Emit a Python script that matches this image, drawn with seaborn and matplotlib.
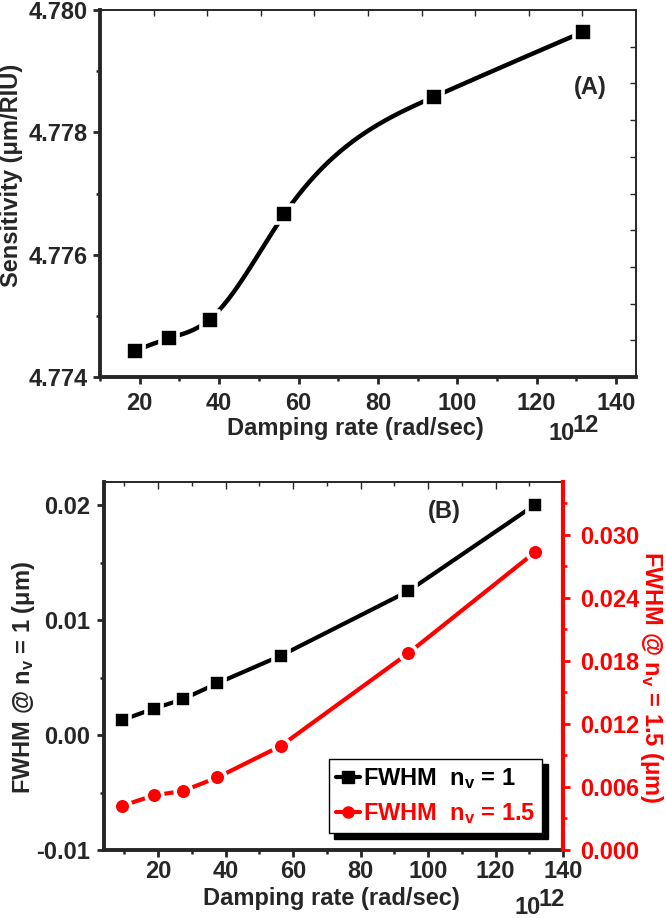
import numpy as np
import pandas as pd
import matplotlib
matplotlib.use('Agg')
import matplotlib.pyplot as plt
from matplotlib.lines import Line2D
from matplotlib.ticker import MultipleLocator, FormatStrFormatter
import seaborn as sns

# --- data ---
# (A) sensitivity vs damping rate (x in 10^12 rad/sec)
damping_a = [18.8, 27.3, 37.6, 56.4, 94.1, 131.6]
sensitivity = [4.77443, 4.77463, 4.77494, 4.77666, 4.77858, 4.77964]

# (B) FWHM vs damping rate
damping_b = [9.4, 18.8, 27.3, 37.6, 56.4, 94.1, 131.6]
fwhm_nv1 = [0.0013, 0.0023, 0.0031, 0.0045, 0.0069, 0.0125, 0.0200]
fwhm_nv15 = [0.0042, 0.0052, 0.0056, 0.0069, 0.0099, 0.0187, 0.0283]

RED = '#ff0000'
FS = 17

sns.set_style('ticks')
plt.rcParams['font.family'] = ['Liberation Sans', 'DejaVu Sans']
plt.rcParams['font.weight'] = 'bold'
plt.rcParams['axes.labelweight'] = 'bold'
plt.rcParams['mathtext.fontset'] = 'custom'
plt.rcParams['mathtext.rm'] = 'Liberation Sans:bold'
plt.rcParams['mathtext.it'] = 'Liberation Sans:bold'
plt.rcParams['mathtext.bf'] = 'Liberation Sans:bold'


def natural_spline(x, y, n=300):
    # smooth connecting curve (Origin-style spline line)
    x = np.asarray(x, float)
    y = np.asarray(y, float)
    k = len(x)
    h = np.diff(x)
    A = np.zeros((k, k))
    b = np.zeros(k)
    A[0, 0] = A[-1, -1] = 1
    for i in range(1, k - 1):
        A[i, i - 1] = h[i - 1]
        A[i, i] = 2 * (h[i - 1] + h[i])
        A[i, i + 1] = h[i]
        b[i] = 6 * ((y[i + 1] - y[i]) / h[i] - (y[i] - y[i - 1]) / h[i - 1])
    M = np.linalg.solve(A, b)
    xs = np.linspace(x[0], x[-1], n)
    idx = np.clip(np.searchsorted(x, xs) - 1, 0, k - 2)
    x0, x1 = x[idx], x[idx + 1]
    hh = x1 - x0
    ys = (M[idx] * (x1 - xs) ** 3 / (6 * hh) + M[idx + 1] * (xs - x0) ** 3 / (6 * hh)
          + (y[idx] / hh - M[idx] * hh / 6) * (x1 - xs)
          + (y[idx + 1] / hh - M[idx + 1] * hh / 6) * (xs - x0))
    return xs, ys


W, H = 666, 918
fig = plt.figure(figsize=(W / 100, H / 100), dpi=100)


def box(l, t, r, b):
    return [l / W, 1 - b / H, (r - l) / W, (b - t) / H]


def fx(px):
    return px / W


def fy(py):
    return 1 - py / H


# ---------------- panel A ----------------
ax_a = fig.add_axes(box(100, 10, 636, 377))
xs, ys = natural_spline(damping_a, sensitivity)
sns.lineplot(x=xs, y=ys, ax=ax_a, color='black', lw=3.2, sort=False, estimator=None)
sns.scatterplot(x=damping_a, y=sensitivity, ax=ax_a, marker='s', s=150, color='black',
                edgecolor='white', linewidth=2.6, zorder=3)
ax_a.set_xlim(10, 145)
ax_a.set_ylim(4.774, 4.780)
ax_a.xaxis.set_major_locator(MultipleLocator(20))
ax_a.xaxis.set_minor_locator(MultipleLocator(10))
ax_a.yaxis.set_major_locator(MultipleLocator(0.002))
ax_a.yaxis.set_minor_locator(MultipleLocator(0.001))
ax_a.yaxis.set_major_formatter(FormatStrFormatter('%.3f'))
ax_a.tick_params(which='major', direction='out', length=5, width=2, labelsize=FS, pad=4)
ax_a.tick_params(which='minor', direction='out', length=3, width=1.8)
ax_a.tick_params(axis='x', pad=6)
for s in ['left', 'bottom']:
    ax_a.spines[s].set_linewidth(2.8)
for s in ['top', 'right']:
    ax_a.spines[s].set_linewidth(1.2)
top_a = ax_a.secondary_xaxis('top', functions=(lambda v: (v - 10) / 13.5, lambda t: t * 13.5 + 10))
top_a.set_xticks(range(1, 10))
top_a.set_xticklabels([])
top_a.tick_params(direction='in', length=4, width=1)
top_a.spines['top'].set_linewidth(1.2)
right_a = ax_a.secondary_yaxis('right', functions=(lambda v: (v - 4.774) / 0.0006,
                                                   lambda t: t * 0.0006 + 4.774))
right_a.set_yticks(range(1, 10))
right_a.set_yticklabels([])
right_a.tick_params(direction='in', length=4, width=1)
right_a.spines['right'].set_linewidth(1.2)

ax_a.set_xlabel('Damping rate (rad/sec)', fontsize=FS)
ax_a.xaxis.set_label_coords(fx(355), fy(429), transform=fig.transFigure)
ax_a.xaxis.label.set_va('center')
ax_a.set_ylabel('Sensitivity (\u03bcm/RIU)', fontsize=FS)
ax_a.yaxis.set_label_coords(fx(12), fy(175), transform=fig.transFigure)
ax_a.yaxis.label.set(va='center', rotation_mode='default')
ax_a.text(133.5, 4.77874, '(A)', fontsize=FS, ha='center', va='center', fontweight='bold')
fig.text(fx(548), fy(434), '10', fontsize=FS, ha='left', va='center', fontweight='bold')
fig.text(fx(573), fy(425), '12', fontsize=FS, ha='left', va='center', fontweight='bold')

# ---------------- panel B ----------------
ax_b = fig.add_axes(box(104, 482, 563, 850))
df_b = pd.DataFrame({'damping': damping_b, 'nv1': fwhm_nv1, 'nv15': fwhm_nv15})
sns.lineplot(data=df_b, x='damping', y='nv1', ax=ax_b, color='black', lw=3,
             marker='s', markersize=12, markeredgecolor='white', markeredgewidth=2.6)
ax_b.set_xlim(4, 140)
ax_b.set_ylim(-0.01, 0.022)
ax_b.xaxis.set_major_locator(MultipleLocator(20))
ax_b.xaxis.set_minor_locator(MultipleLocator(10))
ax_b.yaxis.set_major_locator(MultipleLocator(0.01))
ax_b.yaxis.set_minor_locator(MultipleLocator(0.005))
ax_b.yaxis.set_major_formatter(FormatStrFormatter('%.2f'))
ax_b.tick_params(which='major', direction='out', length=5, width=2, labelsize=FS, pad=5)
ax_b.tick_params(which='minor', direction='out', length=3, width=1.8)
ax_b.tick_params(axis='x', pad=2)
for s in ['left', 'bottom']:
    ax_b.spines[s].set_linewidth(2.8)
ax_b.spines['top'].set_linewidth(1.2)
ax_b.spines['right'].set_visible(False)
top_b = ax_b.secondary_xaxis('top')
top_b.xaxis.set_major_locator(MultipleLocator(20))
top_b.xaxis.set_minor_locator(MultipleLocator(10))
top_b.set_xticklabels([])
top_b.tick_params(which='major', direction='in', length=5, width=1)
top_b.tick_params(which='minor', direction='in', length=3, width=1)
top_b.spines['top'].set_linewidth(1.2)

ax_r = ax_b.twinx()
sns.lineplot(data=df_b, x='damping', y='nv15', ax=ax_r, color=RED, lw=3,
             marker='o', markersize=12, markeredgecolor='white', markeredgewidth=2.6)
ax_r.set_ylim(0, 0.035)
ax_r.yaxis.set_major_locator(MultipleLocator(0.006))
ax_r.yaxis.set_minor_locator(MultipleLocator(0.003))
ax_r.yaxis.set_major_formatter(FormatStrFormatter('%.3f'))
ax_r.tick_params(axis='y', which='major', direction='out', length=5, width=2,
                 labelsize=FS, pad=7, colors=RED)
ax_r.tick_params(axis='y', which='minor', direction='out', length=3, width=1.8, colors=RED)
for s in ['left', 'top', 'bottom']:
    ax_r.spines[s].set_visible(False)
ax_r.spines['right'].set_linewidth(3)
ax_r.spines['right'].set_color(RED)
ax_r.set_ylabel('')
ax_r.text(fx(651), fy(677), 'FWHM @ n$_\\mathrm{v}$ = 1.5 (\u03bcm)', transform=fig.transFigure,
          rotation=270, fontsize=FS, color=RED, ha='center', va='center', fontweight='bold')

ax_b.set_xlabel('Damping rate (rad/sec)', fontsize=FS)
ax_b.xaxis.set_label_coords(fx(331), fy(899), transform=fig.transFigure)
ax_b.xaxis.label.set_va('center')
ax_b.set_ylabel('FWHM @ n$_\\mathrm{v}$ = 1 (\u03bcm)', fontsize=FS)
ax_b.yaxis.set_label_coords(fx(24), fy(678), transform=fig.transFigure)
ax_b.yaxis.label.set(va='center', rotation_mode='default')
ax_b.text(104.8, 0.0194, '(B)', fontsize=FS, ha='center', va='center', fontweight='bold')
fig.text(fx(514), fy(907), '10', fontsize=FS, ha='left', va='center', fontweight='bold')
fig.text(fx(539), fy(899), '12', fontsize=FS, ha='left', va='center', fontweight='bold')

handles = [Line2D([], [], color='black', lw=3, marker='s', markersize=8),
           Line2D([], [], color=RED, lw=3, marker='o', markersize=8)]
labels = ['FWHM  n$_\\mathrm{v}$ = 1', 'FWHM  n$_\\mathrm{v}$ = 1.5']
leg = ax_r.legend(handles, labels, loc='lower left', bbox_to_anchor=(0.49, 0.045),
                  borderaxespad=0, fontsize=FS, labelcolor=['black', RED],
                  handlelength=1.0, handletextpad=0.15, labelspacing=0.45,
                  borderpad=0.3, fancybox=False, framealpha=1,
                  shadow={'ox': 4, 'oy': -4, 'facecolor': 'black', 'edgecolor': 'black', 'alpha': 1})
leg.get_frame().set_edgecolor('black')
leg.get_frame().set_linewidth(1)

fig.savefig('out.png', dpi=100)
